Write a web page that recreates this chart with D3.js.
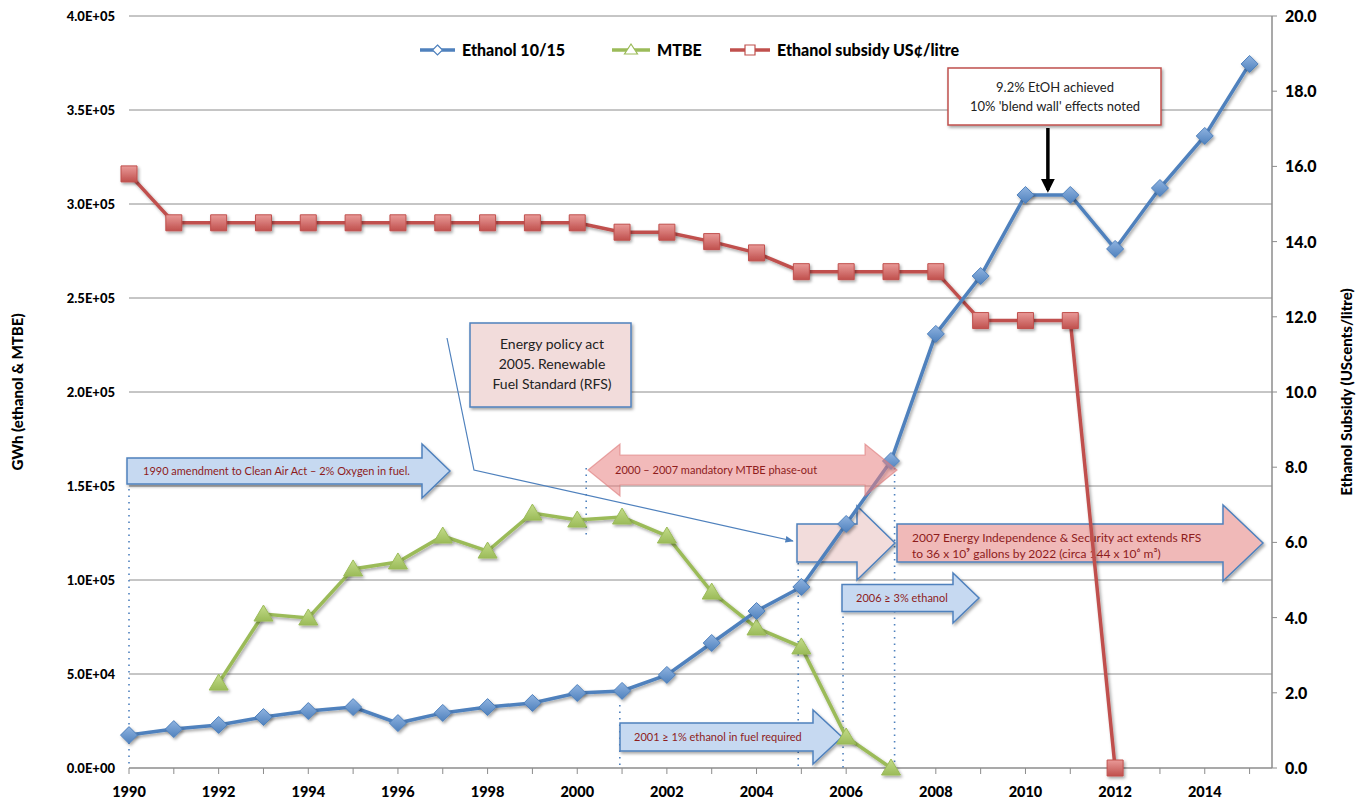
<!DOCTYPE html>
<html>
<head>
<meta charset="utf-8">
<script src="https://cdn.jsdelivr.net/npm/d3@7"></script>
<style>
  body { margin: 0; background: #fff; }
  svg { display: block; font-family: Lato, "Open Sans", sans-serif; }
</style>
</head>
<body>
<script>
const years = [1990, 1991, 1992, 1993, 1994, 1995, 1996, 1997, 1998, 1999, 2000, 2001, 2002,
               2003, 2004, 2005, 2006, 2007, 2008, 2009, 2010, 2011, 2012, 2013, 2014, 2015];

// GWh
const ethanol = [17500, 20700, 22900, 27100, 30300, 32400, 23900, 29300, 32400, 34600, 39900, 41000, 49500,
                 66500, 83500, 96300, 129800, 163300, 230900, 261700, 304800, 304800, 276100, 308500, 336200, 374500];
const mtbe = [null, null, 45200, 81900, 79800, 105900, 109600, 123400, 115400, 135600, 131900, 133500, 123400,
              93600, 74500, 64400, 16500, 0, null, null, null, null, null, null, null, null];
// US cents / litre
const subsidy = [15.8, 14.5, 14.5, 14.5, 14.5, 14.5, 14.5, 14.5, 14.5, 14.5, 14.5, 14.25, 14.25,
                 14.0, 13.7, 13.2, 13.2, 13.2, 13.2, 11.9, 11.9, 11.9, 0, null, null, null];

const leftTicks = [0, 50000, 100000, 150000, 200000, 250000, 300000, 350000, 400000];
const leftLabels = ["0.0E+00", "5.0E+04", "1.0E+05", "1.5E+05", "2.0E+05", "2.5E+05", "3.0E+05", "3.5E+05", "4.0E+05"];
const rightTicks = [0, 2, 4, 6, 8, 10, 12, 14, 16, 18, 20];
const yearLabels = [1990, 1992, 1994, 1996, 1998, 2000, 2002, 2004, 2006, 2008, 2010, 2012, 2014];

const seriesNames = ["Ethanol 10/15", "MTBE", "Ethanol subsidy US¢/litre"];

const w = 1358, h = 808;
const blue = "#4F81BD", green = "#9BBB59", red = "#C0504D", darkRed = "#8E1C1C";

const svg = d3.select("body").append("svg").attr("width", w).attr("height", h);

const defs = svg.append("defs");
const shadow = defs.append("filter").attr("id", "shadow")
  .attr("x", "-20%").attr("y", "-20%").attr("width", "150%").attr("height", "160%");
shadow.append("feDropShadow").attr("dx", 1.5).attr("dy", 2).attr("stdDeviation", 1.5)
  .attr("flood-color", "#000").attr("flood-opacity", 0.35);

function shine(id, light, base) {
  const g = defs.append("linearGradient").attr("id", id)
    .attr("x1", 0).attr("y1", 0).attr("x2", 0).attr("y2", 1);
  g.append("stop").attr("offset", "0%").attr("stop-color", light);
  g.append("stop").attr("offset", "100%").attr("stop-color", base);
}
shine("gBlue", "#8fb3e0", blue);
shine("gGreen", "#c4dc8a", green);
shine("gRed", "#e99a98", red);

defs.append("marker").attr("id", "headBlack").attr("viewBox", "0 0 10 10")
  .attr("refX", 8).attr("refY", 5).attr("markerWidth", 4).attr("markerHeight", 4)
  .attr("orient", "auto")
  .append("path").attr("d", "M0,0 L10,5 L0,10 z").attr("fill", "#000");
defs.append("marker").attr("id", "headBlue").attr("viewBox", "0 0 10 10")
  .attr("refX", 9).attr("refY", 5).attr("markerWidth", 7).attr("markerHeight", 7)
  .attr("orient", "auto")
  .append("path").attr("d", "M0,1 L10,5 L0,9 z").attr("fill", blue);

const x = d3.scaleLinear().domain([1990, 2015.5]).range([129, 1272]);
const yL = d3.scaleLinear().domain([0, 400000]).range([768, 16]);
const yR = d3.scaleLinear().domain([0, 20]).range([768, 16]);

// gridlines
svg.append("g").selectAll("line").data(leftTicks.slice(1)).join("line")
  .attr("x1", x(1990)).attr("x2", x(2015.5))
  .attr("y1", d => yL(d)).attr("y2", d => yL(d))
  .attr("stroke", "#8c8c8c").attr("stroke-width", 1);

// x axis
const xAxis = svg.append("g");
xAxis.append("line").attr("x1", x(1990)).attr("x2", x(2015.5))
  .attr("y1", yL(0)).attr("y2", yL(0)).attr("stroke", "#8c8c8c").attr("stroke-width", 1.5);
xAxis.selectAll(".tk").data(years).join("line")
  .attr("x1", d => x(d)).attr("x2", d => x(d))
  .attr("y1", yL(0)).attr("y2", yL(0) + 6).attr("stroke", "#8c8c8c");
xAxis.selectAll("text").data(yearLabels).join("text")
  .attr("x", d => x(d)).attr("y", 797).attr("text-anchor", "middle")
  .attr("font-size", 14.5).attr("font-weight", 900).text(d => d);

// left axis labels
svg.append("g").selectAll("text").data(leftTicks).join("text")
  .attr("x", 115).attr("y", d => yL(d) + 5).attr("text-anchor", "end")
  .attr("font-size", 13).attr("font-weight", 900)
  .text((d, i) => leftLabels[i]);

// right axis
const rAxis = svg.append("g");
rAxis.append("line").attr("x1", x(2015.5)).attr("x2", x(2015.5))
  .attr("y1", yR(0)).attr("y2", yR(20)).attr("stroke", "#8c8c8c").attr("stroke-width", 1.5);
rAxis.selectAll("line.tk").data(rightTicks).join("line").attr("class", "tk")
  .attr("x1", x(2015.5)).attr("x2", x(2015.5) + 5)
  .attr("y1", d => yR(d)).attr("y2", d => yR(d)).attr("stroke", "#8c8c8c");
rAxis.selectAll("text").data(rightTicks).join("text")
  .attr("x", 1285).attr("y", d => yR(d) + 6)
  .attr("font-size", 16).attr("font-weight", 900).text(d => d.toFixed(1));

// axis titles
svg.append("text").attr("transform", "translate(23,392) rotate(-90)")
  .attr("text-anchor", "middle").attr("font-size", 15).attr("font-weight", 900)
  .text("GWh (ethanol & MTBE)");
svg.append("text").attr("transform", "translate(1352,392) rotate(-90)")
  .attr("text-anchor", "middle").attr("font-size", 15).attr("font-weight", 900)
  .text("Ethanol Subsidy (UScents/litre)");

// dotted guide lines
const guides = [[1990, 489], [2000.2, 468], [2000.95, 705], [2004.93, 563], [2005.93, 610], [2007.08, 468]];
const guideEnds = { 2000.2: 538 };
svg.append("g").selectAll("line").data(guides).join("line")
  .attr("x1", d => x(d[0])).attr("x2", d => x(d[0]))
  .attr("y1", d => d[1]).attr("y2", d => guideEnds[d[0]] || yL(0))
  .attr("stroke", blue).attr("stroke-width", 1.6).attr("stroke-dasharray", "1.5,5");

// block arrow path
function blockArrow(x0, xh, xt, yc, bh, hh) {
  return `M${x0},${yc - bh} L${xh},${yc - bh} L${xh},${yc - hh} L${xt},${yc} L${xh},${yc + hh} L${xh},${yc + bh} L${x0},${yc + bh} Z`;
}
function doubleArrow(x0, xh0, xh1, x1, yc, bh, hh) {
  return `M${x0},${yc} L${xh0},${yc - hh} L${xh0},${yc - bh} L${xh1},${yc - bh} L${xh1},${yc - hh} L${x1},${yc} L${xh1},${yc + hh} L${xh1},${yc + bh} L${xh0},${yc + bh} L${xh0},${yc + hh} Z`;
}

const ann = svg.append("g");
const blueArrows = [
  { d: [127, 422, 450, 471, 13, 27], text: "1990 amendment to Clean Air Act – 2% Oxygen in fuel.", tx: 143, ty: 475 },
  { d: [620, 813, 842, 737, 14, 27], text: "2001 ≥ 1% ethanol in fuel required", tx: 634, ty: 741 },
  { d: [842, 953, 979, 598, 13.5, 25], text: "2006 ≥ 3% ethanol", tx: 856, ty: 602 }
];
blueArrows.forEach(a => {
  ann.append("path").attr("d", blockArrow(...a.d)).attr("fill", "#C6D9F1")
    .attr("stroke", blue).attr("stroke-width", 1.5).attr("filter", "url(#shadow)");
  ann.append("text").attr("x", a.tx).attr("y", a.ty).attr("font-size", 11)
    .attr("fill", darkRed).text(a.text);
});

ann.append("path").attr("d", blockArrow(797, 857, 895, 543, 19, 37)).attr("fill", "#F2DCDB")
  .attr("stroke", blue).attr("stroke-width", 1.5).attr("filter", "url(#shadow)");
ann.append("path").attr("d", blockArrow(897, 1223, 1263, 543, 19, 38)).attr("fill", "#F0B9B8")
  .attr("stroke", blue).attr("stroke-width", 1.5).attr("filter", "url(#shadow)");
const bigT = ann.append("text").attr("font-size", 12).attr("fill", darkRed);
bigT.append("tspan").attr("x", 912).attr("y", 542).text("2007 Energy Independence & Security act extends RFS");
bigT.append("tspan").attr("x", 912).attr("y", 558).text("to 36 x 10⁹ gallons by 2022 (circa 144 x 10⁶ m³)");

// Energy policy box with callout
ann.append("polyline").attr("points", "447,338 474,470 793,541").attr("fill", "none")
  .attr("stroke", blue).attr("stroke-width", 1.2).attr("marker-end", "url(#headBlue)");
ann.append("rect").attr("x", 470).attr("y", 323).attr("width", 161).attr("height", 84)
  .attr("fill", "#F2DCDB").attr("stroke", blue).attr("stroke-width", 1.5).attr("filter", "url(#shadow)");
ann.selectAll(".ep").data(["Energy policy act", "2005. Renewable", "Fuel Standard (RFS)"]).join("text")
  .attr("x", 552).attr("y", (d, i) => 349 + i * 20).attr("text-anchor", "middle")
  .attr("font-size", 14).attr("fill", "#222").text(d => d);

// blend wall box
ann.append("rect").attr("x", 948).attr("y", 68).attr("width", 213).attr("height", 57)
  .attr("fill", "#fff").attr("stroke", red).attr("stroke-width", 1.5).attr("filter", "url(#shadow)");
ann.selectAll(".bw").data(["9.2% EtOH achieved", "10% 'blend wall' effects noted"]).join("text")
  .attr("x", 1055).attr("y", (d, i) => 92 + i * 19).attr("text-anchor", "middle")
  .attr("font-size", 13).attr("fill", "#222").text(d => d);
ann.append("line").attr("x1", x(2010.5)).attr("x2", x(2010.5)).attr("y1", 128).attr("y2", 190)
  .attr("stroke", "#000").attr("stroke-width", 3.5).attr("marker-end", "url(#headBlack)");

// series
function drawSeries(vals, yScale, color, grad, shape) {
  const pts = years.map((yr, i) => ({ yr, v: vals[i] })).filter(d => d.v !== null);
  const line = d3.line().x(d => x(d.yr)).y(d => yScale(d.v));
  const g = svg.append("g");
  g.append("path").datum(pts).attr("d", line).attr("fill", "none")
    .attr("stroke", color).attr("stroke-width", 3.5).attr("filter", "url(#shadow)");
  g.selectAll("path.m").data(pts).join("path").attr("class", "m")
    .attr("transform", d => `translate(${x(d.yr)},${yScale(d.v)})`)
    .attr("d", shape).attr("fill", `url(#${grad})`)
    .attr("stroke", color).attr("stroke-width", 1).attr("filter", "url(#shadow)");
}
const diamond = "M0,-8.5 L8.5,0 L0,8.5 L-8.5,0 Z";
const triangle = "M0,-9 L9.5,7 L-9.5,7 Z";
const square = "M-8,-8 H8 V8 H-8 Z";
drawSeries(mtbe, yL, green, "gGreen", triangle);
drawSeries(subsidy, yR, red, "gRed", square);
drawSeries(ethanol, yL, blue, "gBlue", diamond);

// MTBE phase-out double arrow (translucent, on top)
svg.append("path").attr("d", doubleArrow(588, 620, 865, 897, 470, 15, 26))
  .attr("fill", "rgba(232,130,130,0.55)").attr("stroke", "rgba(220,120,120,0.6)").attr("stroke-width", 1.2);
svg.append("text").attr("x", 615).attr("y", 474).attr("font-size", 11).attr("fill", darkRed)
  .text("2000 – 2007 mandatory MTBE phase-out");

// legend
const legendItems = [
  { name: seriesNames[0], color: blue, shape: "M0,-5 L5,0 L0,5 L-5,0 Z", x0: 420, x1: 455 },
  { name: seriesNames[1], color: green, shape: "M0,-6 L6.5,4 L-6.5,4 Z", x0: 612, x1: 650 },
  { name: seriesNames[2], color: red, shape: "M-5,-5 H5 V5 H-5 Z", x0: 730, x1: 770 }
];
const lg = svg.append("g");
legendItems.forEach(it => {
  lg.append("line").attr("x1", it.x0).attr("x2", it.x1).attr("y1", 50).attr("y2", 50)
    .attr("stroke", it.color).attr("stroke-width", 3.5);
  lg.append("path").attr("transform", `translate(${(it.x0 + it.x1) / 2},50)`).attr("d", it.shape)
    .attr("fill", "#fff").attr("stroke", it.color).attr("stroke-width", 1.2);
  lg.append("text").attr("x", it.x1 + 7).attr("y", 56).attr("font-size", 16)
    .attr("font-weight", 900).text(it.name);
});
</script>
</body>
</html>
